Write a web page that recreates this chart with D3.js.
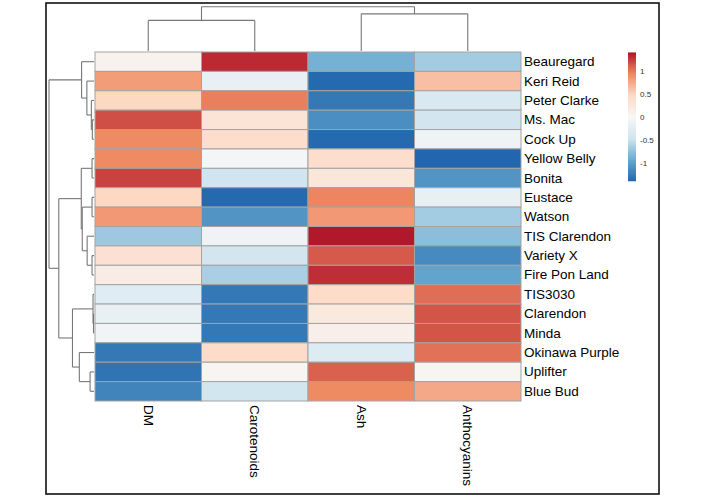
<!DOCTYPE html>
<html>
<head>
<meta charset="utf-8">
<script src="https://d3js.org/d3.v7.min.js"></script>
<style>
  html, body { margin: 0; padding: 0; background: #fff; }
  svg { display: block; }
  text { font-family: "Liberation Sans", Arial, Helvetica, sans-serif; }
</style>
</head>
<body>
<svg id="chart" width="706" height="497"></svg>
<script>
// ---------- data ----------
const rows = ["Beauregard", "Keri Reid", "Peter Clarke", "Ms. Mac", "Cock Up", "Yellow Belly",
  "Bonita", "Eustace", "Watson", "TIS Clarendon", "Variety X", "Fire Pon Land", "TIS3030",
  "Clarendon", "Minda", "Okinawa Purple", "Uplifter", "Blue Bud"];
const cols = ["DM", "Carotenoids", "Ash", "Anthocyanins"];

const DM           = [0.10, 0.85, 0.50, 1.20, 0.95, 0.95, 1.25, 0.50, 0.87, -0.67, 0.38, 0.20, -0.27, -0.17, -0.07, -1.25, -1.28, -1.17];
const Carotenoids  = [1.35, -0.15, 1.00, 0.35, 0.45, -0.03, -0.45, -1.35, -1.05, -0.08, -0.42, -0.62, -1.25, -1.25, -1.25, 0.47, 0.07, -0.43];
const Ash          = [-0.85, -1.35, -1.25, -1.10, -1.35, 0.45, 0.30, 0.97, 0.87, 1.42, 1.15, 1.33, 0.47, 0.25, 0.15, -0.30, 1.12, 0.95];
const Anthocyanins = [-0.65, 0.65, -0.35, -0.42, -0.08, -1.37, -1.05, -0.15, -0.65, -0.75, -1.13, -0.95, 1.07, 1.17, 1.17, 1.05, 0.07, 0.78];

const legendTicks = [1, 0.5, 0, -0.5, -1];
const valueRange = [-1.38, 1.42];
const palette = ["#2166AC", "#67A9CF", "#D1E5F0", "#F7F7F7", "#FDDBC7", "#EF8A62", "#B2182B"];

// hclust-style merges: negative = leaf (1-based), positive = earlier merge (1-based); [a, b, height]
const rowMerges = [
  [-4, -5, 1.7], [-3, 1, 2.7], [-2, 2, 7.3], [-1, 3, 12.7],
  [-6, -7, 2], [-8, -9, 2], [-11, -12, 2], [-10, 7, 7], [6, 8, 12], [5, 9, 13],
  [-14, -15, 0.5], [-13, 11, 1], [-17, -18, 4], [-16, 13, 15], [12, 14, 22],
  [10, 15, 36], [4, 16, 46]
];
const colMerges = [[-1, -2, 31.3], [-3, -4, 38], [1, 2, 45.3]];

// ---------- layout ----------
const svg = d3.select("#chart");
const series = {DM, Carotenoids, Ash, Anthocyanins};

const x = d3.scaleBand().domain(cols).range([95, 521]);
const y = d3.scaleBand().domain(rows).range([52, 401]);

const stops = d3.range(palette.length).map(i => valueRange[0] + (valueRange[1] - valueRange[0]) * i / (palette.length - 1));
const color = d3.scaleLinear().domain(stops).range(palette).interpolate(d3.interpolateRgb).clamp(true);

// frame
svg.append("rect").attr("x", 46).attr("y", 3).attr("width", 613).attr("height", 491)
  .attr("fill", "none").attr("stroke", "#111").attr("stroke-width", 1.6);

// cells
const cells = [];
cols.forEach(c => rows.forEach((r, i) => cells.push({r, c, v: series[c][i]})));
svg.append("g").selectAll("rect").data(cells).join("rect")
  .attr("x", d => x(d.c)).attr("y", d => y(d.r))
  .attr("width", x.bandwidth()).attr("height", y.bandwidth())
  .attr("fill", d => color(d.v))
  .attr("stroke", "#a3a3a3").attr("stroke-width", 1);

// dendrogram helper
function dendro(merges, leafPos, hScale, horizontal) {
  const nodes = [];
  const get = k => k < 0 ? {pos: leafPos(-k - 1), h: 0} : nodes[k - 1];
  const segs = [];
  merges.forEach(([a, b, h]) => {
    const na = get(a), nb = get(b);
    segs.push([na.pos, na.h, na.pos, h]);
    segs.push([nb.pos, nb.h, nb.pos, h]);
    segs.push([na.pos, h, nb.pos, h]);
    nodes.push({pos: (na.pos + nb.pos) / 2, h});
  });
  const g = svg.append("g").attr("fill", "none").attr("stroke", "#777").attr("stroke-width", 1.1);
  g.selectAll("line").data(segs).join("line")
    .attr(horizontal ? "y1" : "x1", s => s[0])
    .attr(horizontal ? "x1" : "y1", s => hScale(s[1]))
    .attr(horizontal ? "y2" : "x2", s => s[2])
    .attr(horizontal ? "x2" : "y2", s => hScale(s[3]));
}

const rowH = d3.scaleLinear().domain([0, 46]).range([94, 49]);
dendro(rowMerges, i => y(rows[i]) + y.bandwidth() / 2, rowH, true);
const colH = d3.scaleLinear().domain([0, 45.3]).range([51, 6.7]);
dendro(colMerges, i => x(cols[i]) + x.bandwidth() / 2, colH, false);

// row labels
svg.append("g").selectAll("text").data(rows).join("text")
  .attr("x", 524).attr("y", d => y(d) + y.bandwidth() / 2)
  .attr("dominant-baseline", "central")
  .attr("font-size", 13.5).attr("fill", "#000")
  .text(d => d);

// column labels
svg.append("g").selectAll("text").data(cols).join("text")
  .attr("transform", d => `translate(${x(d) + x.bandwidth() / 2},405) rotate(90)`)
  .attr("dominant-baseline", "central")
  .attr("font-size", 13.5).attr("fill", "#000")
  .text(d => d);

// legend
const ly = d3.scaleLinear().domain(valueRange).range([181, 52.7]);
const nSteps = 60;
const lsteps = d3.range(nSteps).map(i => valueRange[0] + (valueRange[1] - valueRange[0]) * (i + 0.5) / nSteps);
const stepH = (181 - 52.7) / nSteps;
svg.append("g").selectAll("rect").data(lsteps).join("rect")
  .attr("x", 628).attr("width", 8)
  .attr("y", d => ly(d) - stepH / 2 - 0.3).attr("height", stepH + 0.6)
  .attr("fill", d => color(d));
svg.append("g").selectAll("text").data(legendTicks).join("text")
  .attr("x", 640).attr("y", d => ly(d))
  .attr("dominant-baseline", "central")
  .attr("font-size", 8).attr("fill", "#333")
  .text(d => d);
</script>
</body>
</html>
